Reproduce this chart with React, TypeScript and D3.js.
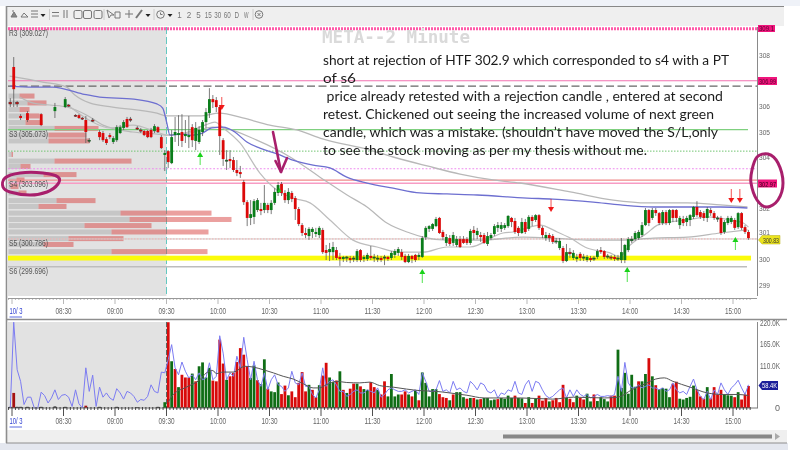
import React from "react";
import * as d3 from "d3";

// ---- regular-session candles, one every two minutes from 09:30
const opens = [304.23,303.76,304.86,304.86,304.98,304.82,304.78,305.17,304.63,304.59,304.98,305.37,305.72,306.27,306.23,305.96,304.66,303.84,303.92,303.88,303.49,303.41,303.02,302.23,301.61,301.65,301.92,301.96,301.92,302.12,301.92,302.20,302.59,302.94,302.59,302.31,302.59,302.39,301.96,301.33,301.02,300.90,301.06,300.98,300.94,301.14,300.35,300.27,300.27,300.35,300.08,300.00,300.04,300.04,300.00,299.96,300.35,300.00,300.00,300.12,300.04,300.00,300.04,300.04,300.08,300.04,300.16,300.24,300.27,300.12,299.88,300.12,300.16,300.08,300.08,300.86,301.18,301.18,301.29,301.61,301.06,300.63,300.82,300.63,300.55,300.78,300.78,300.78,300.63,301.14,300.94,300.94,300.94,300.59,300.82,300.98,301.22,301.18,301.22,301.29,301.61,301.49,301.22,301.02,301.45,301.18,301.65,301.53,301.72,301.22,300.82,300.94,300.90,300.67,300.43,300.43,299.92,300.27,300.04,300.00,300.20,300.04,299.96,300.04,300.00,300.08,300.35,300.31,300.08,300.08,300.08,300.00,299.96,299.96,300.35,300.71,300.78,300.82,300.94,301.33,301.92,301.61,301.92,301.80,301.41,301.84,301.41,301.92,301.92,301.33,301.57,301.45,301.53,301.65,302.04,301.84,301.80,301.61,301.92,301.80,301.57,301.61,301.06,301.41,301.45,301.53,301.25,301.80,301.25,301.06];
const closes = [303.80,304.78,304.98,304.94,304.63,304.90,304.86,304.66,305.14,305.06,305.37,305.76,306.27,306.15,305.96,304.82,303.92,303.88,303.84,303.49,303.37,303.33,302.23,301.61,301.76,302.27,302.31,301.88,302.20,301.92,302.20,302.63,302.90,302.59,302.31,302.63,302.35,301.96,301.37,301.02,300.94,301.18,301.18,301.06,301.22,300.27,300.24,300.39,300.47,300.04,300.00,300.08,300.08,299.96,300.04,300.31,299.96,300.08,300.16,300.04,300.08,300.04,299.96,300.08,300.00,300.24,300.31,300.39,300.08,299.88,300.12,300.00,299.96,300.16,300.82,301.22,301.29,301.37,301.57,301.02,300.86,300.86,300.59,300.94,300.78,300.47,300.63,300.63,301.10,301.02,301.10,300.86,300.63,300.90,300.94,301.29,301.33,301.33,301.33,301.69,301.45,301.06,301.02,301.45,301.06,301.65,301.49,301.72,301.22,300.94,300.94,300.82,300.67,300.71,300.71,299.92,300.27,300.20,300.24,300.08,300.04,300.08,300.08,299.96,300.04,300.31,300.27,300.08,300.12,300.04,300.00,300.04,300.27,300.55,300.78,300.78,301.02,301.06,301.33,301.92,301.41,301.92,301.80,301.41,301.84,301.41,301.92,301.61,301.61,301.61,301.41,301.61,301.72,302.04,301.72,301.65,301.61,301.96,301.80,301.61,301.61,301.02,301.45,301.61,301.61,301.22,301.80,301.22,301.06,300.82];
const highs = [304.27,305.06,305.57,305.64,305.68,305.45,305.61,305.29,305.37,305.21,305.45,305.92,306.70,306.43,306.35,306.04,304.74,304.27,304.27,304.00,303.88,303.65,303.10,302.31,302.31,302.35,302.39,302.20,302.90,302.20,302.31,302.78,303.02,303.02,302.70,302.78,302.67,302.47,302.04,301.41,301.22,301.25,301.25,301.22,301.29,301.22,300.55,300.63,300.67,300.47,300.24,300.12,300.12,300.12,300.12,300.39,300.39,300.16,300.24,300.51,300.20,300.16,300.12,300.16,300.12,300.31,300.39,300.47,300.39,300.20,300.20,300.16,300.20,300.24,300.90,301.29,301.33,301.41,301.65,301.65,301.14,300.98,300.94,301.06,300.90,300.90,300.90,300.86,301.18,301.29,301.22,301.06,301.02,301.06,301.02,301.37,301.45,301.45,301.41,301.72,301.65,301.61,301.29,301.61,301.57,301.72,301.72,301.76,301.76,301.29,301.06,301.02,300.98,300.82,300.82,300.51,300.59,300.43,300.35,300.20,300.27,300.20,300.16,300.12,300.12,300.39,300.47,300.35,300.20,300.16,300.16,300.16,300.82,300.59,300.86,300.90,301.10,301.14,301.45,302.00,301.96,302.00,302.00,301.84,301.92,301.92,301.96,301.96,301.96,301.69,301.69,301.69,301.76,302.08,302.27,301.92,301.88,302.04,302.00,301.88,301.69,301.69,301.53,301.69,301.69,301.61,301.84,301.84,301.33,301.14];
const lows = [303.57,303.72,304.59,304.43,304.39,304.55,304.35,304.39,304.27,304.51,304.82,305.14,305.53,305.92,305.76,304.08,303.65,303.49,303.57,303.41,303.25,303.18,302.12,301.29,301.33,301.37,301.84,301.72,301.80,301.80,301.76,302.12,302.47,302.47,302.20,302.16,302.23,301.53,301.29,300.90,300.82,300.75,300.82,300.86,300.82,300.20,299.96,299.92,299.96,299.96,299.73,299.88,299.88,299.84,299.88,299.88,299.88,299.88,299.92,299.96,299.88,299.88,299.88,299.76,299.92,299.96,300.04,300.12,299.96,299.84,299.84,299.84,299.88,299.96,300.04,300.75,301.06,301.10,301.25,300.98,300.75,300.51,300.51,300.51,300.47,300.43,300.59,300.55,300.55,300.75,300.78,300.67,300.59,300.51,300.75,300.90,301.06,301.06,301.14,301.22,301.25,300.98,300.90,300.98,300.98,301.10,301.29,301.45,301.14,300.82,300.71,300.67,300.59,300.59,300.35,299.84,299.88,300.04,299.96,299.88,299.92,299.92,299.88,299.88,299.92,300.00,300.20,300.00,300.00,299.96,299.92,299.92,299.84,299.84,300.27,300.63,300.71,300.75,300.86,301.29,301.29,301.53,301.69,301.33,301.33,301.33,301.33,301.45,301.45,301.18,301.29,301.29,301.29,301.57,301.65,301.57,301.49,301.45,301.69,301.53,301.45,300.94,300.98,301.33,301.37,301.14,301.18,301.14,300.98,300.75];

// ---- pre-market candles: bar index relative to 09:30 (negative = earlier)
const preIndex = [-46,-45,-44,-43,-41,-37,-33,-30,-29,-27,-26,-25,-24,-23,-22,-20,-19,-18,-17,-16,-15,-14,-13,-12,-11,-9,-8,-7,-6,-5,-4,-3,-2,-1];
const preOpens = [306.15,307.53,306.15,305.61,305.72,305.68,305.80,305.96,306.04,305.64,305.64,305.53,305.45,304.63,305.45,304.98,304.94,304.70,304.86,304.59,304.66,304.94,305.14,305.49,305.49,305.14,305.06,305.02,305.02,305.06,305.02,305.17,304.78,304.08];
const preCloses = [306.08,306.66,306.08,305.53,305.45,305.25,305.96,306.27,306.00,305.61,305.53,305.49,304.98,304.66,305.41,304.78,304.66,304.55,304.78,304.74,305.17,305.17,305.37,305.17,305.45,305.10,305.02,304.86,304.78,304.78,305.21,304.98,304.35,304.16];
const preHighs = [306.31,307.92,306.20,305.68,305.80,305.72,306.12,306.35,306.08,305.68,305.68,305.57,305.61,304.74,305.53,305.06,305.02,304.78,304.94,304.82,305.25,305.25,305.45,305.57,305.57,305.21,305.14,305.06,305.06,305.14,305.29,305.21,304.86,304.27];
const preLows = [305.96,305.96,305.96,305.45,305.37,305.21,305.53,305.92,305.96,305.57,305.49,305.45,304.55,304.55,305.37,304.66,304.59,304.47,304.70,304.51,304.59,304.90,305.06,305.14,305.37,305.06,304.94,304.82,304.74,304.74,304.94,304.94,304.31,303.45];

// ---- volume (thousands), 09:30 onward, and the bar colour of each
const volumes = [222,121,101,54,86,79,79,89,69,108,118,79,104,71,69,177,115,73,82,91,119,155,138,108,78,110,72,62,126,50,43,41,66,36,58,33,43,28,65,93,43,60,47,28,59,84,117,79,67,71,95,47,39,50,63,63,56,49,47,67,54,47,35,69,30,88,30,35,35,43,35,30,45,20,92,65,30,49,49,36,28,26,20,35,41,41,28,24,26,26,22,23,26,26,20,22,23,26,24,32,26,32,26,25,13,28,13,24,32,19,26,17,20,26,15,60,26,24,15,32,26,22,37,17,35,18,28,23,17,32,32,151,52,91,37,86,55,69,69,88,129,82,59,49,52,50,28,63,68,24,22,26,29,58,47,30,24,54,25,54,35,47,35,33,32,28,41,22,35,57];
const volumeDirs = [
  "rgrgrrrgrg","gggrrrrgrr","rrrrggrggr","gggrrgrrrr","rgrrgrrggr","grgrrgrggr","rgrrggggrr","grgrgggggr","rrgrgggrgr",
  "grggggrggg","grggrgrgrr","rgrrrrgrrg","rrggrggggr","rggggggrgg","rgrggggrrg","ggggrrrgrr","rrgggrgrrr",
].join("").split("");

const preVolumeIndex = [-46,-45,-44,-43,-41,-37,-33,-30,-24,-20,-15,-9,-3,-1];
const preVolumes = [3,39,3,3,3,3,4,3,6,3,3,2,3,15];

// blue volume line, one value per bar from index -46
const blueStart = -46;
const blueVolume = [0,222,99,69,9,28,28,0,0,41,32,13,26,47,22,33,35,28,4,47,11,0,104,43,85,4,54,28,39,26,20,50,39,23,43,39,30,15,22,20,30,60,43,39,93,91,125,164,104,86,119,95,78,86,73,91,73,78,117,73,82,187,142,73,91,82,134,104,183,125,73,121,73,56,91,47,73,86,60,56,43,52,95,65,60,91,56,56,35,26,47,104,56,69,73,60,43,43,30,35,43,47,39,39,47,43,39,52,28,35,47,52,47,43,43,47,39,43,47,35,91,69,43,43,47,71,43,47,39,69,47,52,43,39,69,60,47,65,60,43,39,47,26,39,35,47,43,69,39,35,60,72,43,69,65,47,32,26,30,39,47,52,26,47,30,47,35,30,35,26,30,35,30,30,32,30,35,82,43,118,65,52,52,60,52,56,60,52,52,47,52,43,47,65,47,39,43,35,56,75,47,30,22,43,22,47,35,65,47,35,52,60,72,52,35,60];

// volume moving average
const volMaIndex = [0,1.4,5.3,9.2,11,13,14,16,19,22.3,24.7,27.7,30.6,33.5,36.4,39.3,42.2,44,46,49,52,55.8,58.7,61.6,65.5,69.4,73.3,78,82,87,92,97,102.8,112,118,127,131,135,139,142,144.5,147,152,157,161.5,166,169];
const volMaValues = [15,34,54,73,90,97,89,93,93,108,106,99,91,82,75,63,52,52,60,69,66,65,67,58,54,49,45,43,39,33,26,26,26,23,28,26,28,47,63,75,78,69,54,39,35,35,32];

// price moving averages (bar index, price)
const maBlueIndex = [-46,-39.5,-33.6,-24.9,-20,-10,-3.3,-1.6,-0.4,0.5,3.4,7.2,10,12.7,16,19.4,22.9,26.7,31.7,36.3,42.2,47.1,52,57.9,65.5,73.3,81.2,90,104.5,112,123.8,131.7,141.3,151,160.8,168.7];
const maBlueValues = [306.78,306.74,306.74,306.47,306.35,306.27,306.08,305.92,305.33,304.86,304.90,304.86,304.94,305.14,305.17,304.98,304.59,304.35,304.12,303.88,303.68,303.57,303.21,302.98,302.78,302.59,302.55,302.51,302.39,302.35,302.23,302.12,302.04,302.04,302.04,302.00];
const maSlowIndex = [-46.2,-36.6,-29.6,-27.2,-22.9,-16.2,-3.3,-0.4,9.2,15,21.7,29.6,37.5,44.2,58.8,65.5,75.4,85,94.6,102.5,117.1,129.6,139.5,151.2,160.8,168.7];
const maSlowValues = [307.17,306.94,306.74,306.43,306.12,305.96,305.72,305.61,305.61,305.72,305.53,305.25,305.06,304.74,304.27,304.00,303.65,303.33,303.10,302.98,302.63,302.31,302.20,302.20,302.12,302.04];
const maMidIndex = [-43.3,-39.5,-29.6,-23.7,-19,-10.3,-3.3,-0.4,6.3,13,16,25.8,35.5,44.2,52.1,57.9,63.7,70.4,74.2,81.2,90.8,103.4,112.1,122,131.6,141.3,151.2,160.8,168.7];
const maMidValues = [306.35,306.12,305.96,305.64,305.25,304.98,304.90,304.86,304.94,305.17,305.14,304.66,304.00,303.21,302.51,302.04,301.41,301.02,300.86,300.74,300.74,300.86,300.82,300.74,300.74,300.82,300.86,301.02,301.14];
const maFastIndex = [-29.6,-22,-17,-10.3,-3.3,-0.4,4.8,10.7,13.6,16,20.9,26.7,31.7,36.3,41.3,47.1,53.8,60.8,67.5,74.2,81.2,87.9,97.5,100.4,108.3,113.3,117.1,122,128.7,131.6,133.7,139.5,142.5,146.2,151.2,157,163.7,167.5,169];
const maFastValues = [306.08,305.37,305.14,305.25,304.98,304.86,304.94,305.25,305.37,305.14,304.55,303.37,302.70,302.39,302.20,301.53,300.74,300.47,300.27,300.27,300.47,300.47,301.02,301.06,301.33,301.06,300.82,300.43,300.24,300.08,300.43,301.02,301.33,301.45,301.53,301.65,301.53,301.41,301.25];

// volume profile on the left: price of each row, two volumes per row
const profilePrices = [306.39,306.12,305.86,305.61,305.35,305.12,304.86,304.63,304.10,303.84,303.63,303.31,303.10,302.84,302.59,302.29,302.06,301.80,301.55,301.31,301.06,300.80,300.57,300.29];
const profileGray = [11,19,11,18,17,46,40,40,3,46,12,35,8,2,10,48,30,112,121,76,103,60,35,103];
const profileRed = [15,19,10,13,17,44,38,41,1.5,77,10,33,8,8,8,39,28,91,102,67,97,55,30,96];

// tick labels
const timeTicks = [510,540,570,600,630,660,690,720,750,780,810,840,870,900];
const priceTicks = ["308","306","305","304","302","301","300","299"];
const volumeTicks = [220,165,110,0];
const toolbarPeriods = ["1","2","5","15","30","60","D","W"];

const pivotLabels = [
  { name: "R3", value: 309.027 },
  { name: "S3", value: 305.073 },
  { name: "S4", value: 303.096 },
  { name: "S5", value: 300.786 },
  { name: "S6", value: 299.696 },
];
const noteLines = [
  "short at rejection of HTF 302.9 which corresponded to s4 with a PT",
  "of s6",
  " price already retested with a rejection candle , entered at second",
  "retest. Chickened out seeing the increased volume of next green",
  "candle, which was a mistake. (shouldn\u2019t have moved the S/L,only",
  "to see the stock moving as per my thesis without me.",
];
const noteEnds = [406, 33, 400, 391, 395, 324];
const downArrowBars = [15.6, 111.5, 164, 166.5];
const upArrowBars = [9.3, 74, 133.7, 165.2];

const x = d3.scaleLinear().domain([570, 900]).range([166.5, 733]);
const y = d3.scaleLinear().domain([299, 309]).range([284.5, 29.5]);
const v = d3.scaleLinear().domain([0, 220]).range([408, 323]);
const barX = (i: number) => x(570 + 2 * i + 1);
const fmt = (m: number) => `${d3.format("02d")(Math.floor(m / 60))}:${d3.format("02d")(m % 60)}`;

function path(idx: number[], vals: number[], sy: (n: number) => number, curve: any = d3.curveMonotoneX) {
  return d3.line<number>().x((i) => barX(i)).y((_, k) => sy(vals[k])).curve(curve)(idx) || "";
}
const hand = (pts: [number, number][], closed = false) =>
  d3.line().curve(closed ? d3.curveCardinalClosed : d3.curveCardinal)(pts) || "";

const SANS = "'Liberation Sans', sans-serif";
const AXIS = "#666";

function Small({ x: tx, y: ty, w, children, fill = AXIS, size = 9, anchor = "start" }: any) {
  return (
    <text x={tx} y={ty} fontFamily={SANS} fontSize={size} fill={fill} textAnchor={anchor}
      textLength={w} lengthAdjust="spacingAndGlyphs">{children}</text>
  );
}

function Candle({ xp, o, c, h, l }: { xp: number; o: number; c: number; h: number; l: number }) {
  const up = c >= o;
  const top = y(Math.max(o, c));
  const bot = y(Math.min(o, c));
  return (
    <g>
      <line x1={xp} x2={xp} y1={y(h)} y2={y(l)} stroke="#5a5a5a" strokeWidth={0.8} />
      <rect x={xp - 1.4} y={top} width={2.8} height={Math.max(bot - top, 1.2)}
        fill={up ? "#0a7d1a" : "#dc0808"} stroke={bot - top < 2 ? "#333" : "none"} strokeWidth={0.4} />
    </g>
  );
}

function DownArrow({ i, y0, h, color }: { i: number; y0: number; h: number; color: string }) {
  const px = barX(i);
  return (
    <g>
      <line x1={px} x2={px} y1={y0} y2={y0 + h - 4} stroke={color} strokeWidth={1} opacity={0.75} />
      <path d={`M${px - 3},${y0 + h - 5}L${px + 3},${y0 + h - 5}L${px},${y0 + h}Z`} fill={color} />
    </g>
  );
}
function UpArrow({ i, y0, h }: { i: number; y0: number; h: number }) {
  const px = barX(i);
  return (
    <g>
      <line x1={px} x2={px} y1={y0 + 3} y2={y0 + h} stroke="#4fe34f" strokeWidth={1} />
      <path d={`M${px - 3},${y0 + 5}L${px + 3},${y0 + 5}L${px},${y0}Z`} fill="#19d219" />
    </g>
  );
}

function Toolbar() {
  const c = "#777";
  const iconXs = [78, 87.5, 98];
  return (
    <g>
      <rect x={6} y={6} width={778} height={20} fill="#efefef" />
      <line x1={6} x2={784} y1={6.5} y2={6.5} stroke="#888" strokeWidth={1} />
      <g stroke={c} fill="none" strokeWidth={1}>
        <path d="M11,17l3,-5l3,5zM13,12v-2" fill="#888" />
        <path d="M21,17l3,-4l4,4z" />
        <path d="M31,11h7M31,14h7M31,17h7" />
        <path d="M52,12.5h7M52,16h7" />
        <path d="M64,10v8M67,10v8" />
        {iconXs.map((ix) => (
          <rect key={ix} x={ix - 4} y={10.5} width={8} height={8} rx={1.5} />
        ))}
        <path d="M107,10l2,8l2,-3l3,0z" />
        <path d="M115,18v-6h5v6z" />
        <path d="M129,10v8M125,14h8" />
        <path d="M136,18l6,-8" strokeWidth={2} />
        <circle cx={160.5} cy={14.5} r={3.8} />
        <path d="M160.5,12.5v2h2" />
        <circle cx={259} cy={14.5} r={3.8} />
        <path d="M257.5,13l3,3M260.5,13l-3,3" />
        <path d="M49.5,9v11M104,9v11M154,9v11M253,9v11" stroke="#ccc" />
      </g>
      {[43, 148, 170].map((tx) => (
        <path key={tx} d={`M${tx - 2.5},14h5l-2.5,3z`} fill="#222" />
      ))}
      {toolbarPeriods.map((p, k) => (
        <text key={p} x={179.5 + k * 9.55} y={18} fontFamily={SANS} fontSize={9} fill="#777" textAnchor="middle"
          textLength={p.length > 1 ? 7 : 4.5} lengthAdjust="spacingAndGlyphs">{p}</text>
      ))}
    </g>
  );
}

export default function App() {
  const right = 748;
  const plotRight = 757;
  const barIdx = d3.range(opens.length);
  const blueIdx = blueVolume.map((_, k) => blueStart + k);
  const rowH = Math.abs(y(0.22) - y(0));
  const profileX = d3.scaleLinear().domain([0, 1]).range([8.5, 9.5]);
  return (
    <svg width={800} height={450} viewBox="0 0 800 450"
      style={{ position: "fixed", left: 0, top: 0, background: "#fff", filter: "blur(0.35px)" }}>
      <rect x={0} y={0} width={800} height={6} fill="#eff2f8" />
      <rect x={0} y={443} width={788} height={7} fill="#e4e7ef" />
      <Toolbar />

      {/* plot frames */}
      <rect x={8} y={27} width={158.5} height={269} fill="#e2e2e2" />
      <rect x={8} y={322} width={158.5} height={86} fill="#e2e2e2" />
      <line x1={166.5} x2={166.5} y1={27} y2={296} stroke="#63c8c0" strokeWidth={1} strokeDasharray="7 3" />
      <line x1={166.5} x2={166.5} y1={322} y2={408} stroke="#3f7f7a" strokeWidth={1} strokeDasharray="5 2" />

      {/* volume profile */}
      {profilePrices.map((p, k) => (
        <g key={p}>
          <rect x={profileX(0)} y={y(p) - rowH / 2 + 0.3} width={profileX(profileGray[k]) - profileX(0)} height={rowH - 0.6} fill="#c6c6c6" />
          <rect x={profileX(profileGray[k])} y={y(p) - rowH / 2 + 0.3} width={profileX(profileRed[k]) - profileX(0)} height={rowH - 0.6} fill="#d8413f" opacity={0.5} />
        </g>
      ))}

      {/* pivot and level lines */}
      <line x1={8} x2={plotRight} y1={y(309.027)} y2={y(309.027)} stroke="#ff5aa8" strokeWidth={3} strokeDasharray="2 1" />
      <line x1={8} x2={plotRight} y1={y(306.99)} y2={y(306.99)} stroke="#f272b0" strokeWidth={1.2} />
      <line x1={8} x2={plotRight} y1={y(306.78)} y2={y(306.78)} stroke="#666" strokeWidth={1.2} strokeDasharray="8 3.5" />
      <line x1={8} x2={right} y1={y(305.073)} y2={y(305.073)} stroke="#7fd07f" strokeWidth={1.2} />
      <line x1={8} x2={plotRight} y1={y(304.23)} y2={y(304.23)} stroke="#72c472" strokeWidth={1} strokeDasharray="1.5 1.5" />
      <line x1={8} x2={plotRight} y1={y(303.54)} y2={y(303.54)} stroke="#ee8aee" strokeWidth={1.2} strokeDasharray="1.8 1.8" />
      <line x1={8} x2={plotRight} y1={y(303.096)} y2={y(303.096)} stroke="#f08a8a" strokeWidth={1.3} />
      <line x1={8} x2={plotRight} y1={y(302.97)} y2={y(302.97)} stroke="#f79cc4" strokeWidth={1.5} />
      <line x1={8} x2={plotRight} y1={y(300.786)} y2={y(300.786)} stroke="#cccccc" strokeWidth={1} />
      <line x1={8} x2={plotRight} y1={y(300.786)} y2={y(300.786)} stroke="#f4b0b0" strokeWidth={1} strokeDasharray="1.5 1.5" />
      <rect x={8} y={y(300.13)} width={743} height={y(299.96) - y(300.13) + 0.5} fill="#fbfb0a" />
      <line x1={8} x2={747} y1={y(299.696)} y2={y(299.696)} stroke="#bdbdbd" strokeWidth={1.6} />

      {pivotLabels.map((d) => (
        <Small key={d.name} x={9} y={y(d.value) + 7} w={39} fill="#555">
          {`${d.name}  (${d.value.toFixed(3)})`}
        </Small>
      ))}

      {/* moving averages */}
      <g fill="none">
        <path d={path(maSlowIndex, maSlowValues, y)} stroke="#b8b8b8" strokeWidth={1.3} />
        <path d={path(maMidIndex, maMidValues, y)} stroke="#b8b8b8" strokeWidth={1.2} />
        <path d={path(maFastIndex, maFastValues, y)} stroke="#bdbdbd" strokeWidth={1.2} />
        <path d={path(maBlueIndex, maBlueValues, y)} stroke="#6d6fd0" strokeWidth={1.3} />
      </g>

      {/* candles */}
      {preIndex.map((i, k) => (
        <Candle key={i} xp={barX(i)} o={preOpens[k]} c={preCloses[k]} h={preHighs[k]} l={preLows[k]} />
      ))}
      {barIdx.map((i) => (
        <Candle key={i} xp={barX(i)} o={opens[i]} c={closes[i]} h={highs[i]} l={lows[i]} />
      ))}

      {/* signal arrows */}
      <DownArrow i={downArrowBars[0]} y0={97} h={13} color="#f01818" />
      <DownArrow i={downArrowBars[1]} y0={199} h={13} color="#f01818" />
      <DownArrow i={downArrowBars[2]} y0={189} h={14} color="#f01818" />
      <DownArrow i={downArrowBars[3]} y0={189} h={14} color="#f01818" />
      <UpArrow i={upArrowBars[0]} y0={152} h={13} />
      <UpArrow i={upArrowBars[1]} y0={269} h={14} />
      <UpArrow i={upArrowBars[2]} y0={267} h={15} />
      <UpArrow i={upArrowBars[3]} y0={237} h={13} />
      <path d={`M${barX(32.4) - 2},192L${barX(32.4) + 2},192L${barX(32.4)},188Z`} fill="#19d219" />

      {/* axes: right price axis */}
      <line x1={plotRight + 0.5} x2={plotRight + 0.5} y1={27} y2={296} stroke="#8a8a8a" strokeWidth={1} />
      <line x1={plotRight + 0.5} x2={plotRight + 0.5} y1={322} y2={408} stroke="#8a8a8a" strokeWidth={1} />
      {priceTicks.map((t) => (
        <Small key={t} x={759} y={y(+t) + (t === "301" ? 1 : 3)} w={11} size={7.5}>{t}</Small>
      ))}
      <rect x={758} y={25} width={17} height={7} fill="#f0157c" />
      <Small x={759} y={31} w={15} size={7.5} fill="#5a0030">309.1</Small>
      <rect x={758} y={77} width={19} height={8} fill="#f0157c" />
      <Small x={759} y={84} w={17} size={7.5} fill="#5a0030">306.99</Small>
      <rect x={758} y={179.5} width={19} height={8} fill="#f0157c" />
      <Small x={759} y={186.5} w={17} size={7.5} fill="#300018">302.97</Small>
      <path d="M758.5,240L762,235.5H780V244H762Z" fill="#ece41e" stroke="#b5ad10" strokeWidth={0.5} />
      <Small x={763} y={243} w={16} size={7.5} fill="#333">300.83</Small>

      {/* time axis under the price panel */}
      <line x1={8} x2={plotRight} y1={298.5} y2={298.5} stroke="#999" strokeWidth={1} />
      {d3.range(-46, 171).map((i) => (
        <line key={i} x1={x(570 + 2 * i)} x2={x(570 + 2 * i)} y1={298} y2={i % 15 === 0 ? 304 : 300} stroke="#999" strokeWidth={0.7} />
      ))}
      {timeTicks.map((t) => (
        <Small key={t} x={x(t)} y={314} w={16} anchor="middle">{fmt(t)}</Small>
      ))}
      <Small x={9.5} y={314} w={13} fill="#2f3fd0">10/ 3</Small>
      <line x1={9.5} x2={22} y1={317} y2={317} stroke="#5a6ae0" strokeWidth={1} />

      {/* separator */}
      <line x1={6} x2={787} y1={319.5} y2={319.5} stroke="#8e8e8e" strokeWidth={1.6} />

      {/* volume panel */}
      {barIdx.map((i) => {
        const up = volumeDirs[i] === "g";
        return (
          <rect key={i} x={barX(i) - 1.4} y={v(volumes[i])} width={2.8} height={v(0) - v(volumes[i])} fill={up ? "#0f6d15" : "#d80a0a"} />
        );
      })}
      {preVolumeIndex.map((i, k) => (
        <rect key={i} x={barX(i) - 1.4} y={v(preVolumes[k])} width={2.8} height={v(0) - v(preVolumes[k])}
          fill={preVolumes[k] > 30 || i === -24 ? "#a51212" : i === -1 ? "#0f6d15" : "#222"} />
      ))}
      <path d={path(blueIdx, blueVolume, v, d3.curveLinear)} fill="none" stroke="#7c7cf2" strokeWidth={1} />
      <path d={path(volMaIndex, volMaValues, v)} fill="none" stroke="#555" strokeWidth={1} />
      <line x1={8} x2={plotRight + 1} y1={408} y2={408} stroke="#777" strokeWidth={1} />
      {d3.range(-46, 171).map((i) => (
        <line key={i} x1={x(570 + 2 * i)} x2={x(570 + 2 * i)} y1={407} y2={i % 15 === 0 ? 416 : 410} stroke="#222" strokeWidth={0.8} />
      ))}
      {timeTicks.map((t) => (
        <Small key={t} x={x(t)} y={424} w={16} anchor="middle">{fmt(t)}</Small>
      ))}
      <Small x={9.5} y={424} w={13} fill="#2f3fd0">10/ 3</Small>
      <line x1={9.5} x2={22} y1={427} y2={427} stroke="#5a6ae0" strokeWidth={1} />
      {volumeTicks.map((t) => (
        <Small key={t} x={780} y={v(t) + 3} w={t === 0 ? 5 : 20} size={8.5} anchor="end">{t === 0 ? "0" : `${t}.0K`}</Small>
      ))}
      <path d={`M758.5,${v(58.4)}L762,${v(58.4) - 4.5}H778V${v(58.4) + 4.5}H762Z`} fill="#1c1f9a" />
      <Small x={762} y={v(58.4) + 3} w={15} size={8} fill="#fff">58.4K</Small>

      {/* bottom strip and scrollbar */}
      <rect x={7} y={430} width={780} height={13} fill="#efefef" />
      <rect x={503} y={434.5} width={269} height={4} fill="#888" />
      <path d="M775,433L780,436.5L775,440Z" fill="#aaa" />
      <line x1={6.5} x2={6.5} y1={6} y2={443} stroke="#8e8e8e" strokeWidth={1.6} />
      <line x1={6} x2={787} y1={443} y2={443} stroke="#8e8e8e" strokeWidth={1} />

      {/* watermark */}
      <text x={322} y={43} fontFamily="'DejaVu Sans Mono', monospace" fontWeight="bold" fontSize={18} fill="#dadada"
        textLength={148} lengthAdjust="spacingAndGlyphs">META--2 Minute</text>

      {/* the note pasted over the chart */}
      {noteLines.map((line, k) => (
        <text key={k} x={323} y={65 + k * 18} fontFamily="Lato, 'Open Sans', sans-serif" fontSize={13.5} fill="#1c1c1c"
          xmlSpace="preserve" style={{ whiteSpace: "pre" }} textLength={noteEnds[k]} lengthAdjust="spacingAndGlyphs">{line}</text>
      ))}

      {/* hand-drawn marks */}
      <g fill="none" stroke="#a81f6c" strokeLinecap="round" strokeLinejoin="round">
        <path strokeWidth={3} d={hand([[58, 177], [43, 173], [20, 173], [5, 178], [3, 187], [10, 192], [30, 195], [47, 192], [58, 184]], true)} />
        <path strokeWidth={3} d={hand([[757, 157], [768, 154], [778, 163], [783, 183], [778, 200], [767, 207], [757, 200], [751, 183], [752, 170]], true)} />
        <path strokeWidth={2.6} d={hand([[273, 132], [277, 152], [281, 172]])} />
        <path strokeWidth={2.6} d="M275.5,161L281,172L287,158" />
      </g>
    </svg>
  );
}
